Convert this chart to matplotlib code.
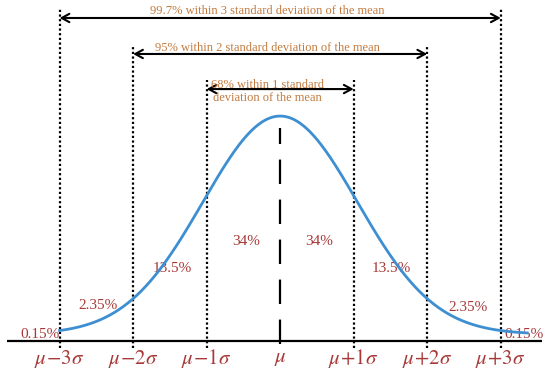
import numpy as np
import matplotlib
matplotlib.use("Agg")
import matplotlib.pyplot as plt

plt.rcParams['mathtext.fontset'] = 'stix'
plt.rcParams['font.family'] = ['Liberation Serif', 'DejaVu Serif']

# ---- data ----
sigma_marks = [-3, -2, -1, 1, 2, 3]
tick_positions = [-3, -2, -1, 0, 1, 2, 3]
tick_labels = [r'$\mu\!-\!3\sigma$', r'$\mu\!-\!2\sigma$', r'$\mu\!-\!1\sigma$', r'$\mu$',
               r'$\mu\!+\!1\sigma$', r'$\mu\!+\!2\sigma$', r'$\mu\!+\!3\sigma$']
pct_labels = ['0.15%', '2.35%', '13.5%', '34%', '34%', '13.5%', '2.35%', '0.15%']
pct_x = [-3.27, -2.48, -1.47, -0.46, 0.53, 1.51, 2.56, 3.32]
pct_y = [0.027, 0.156, 0.324, 0.444, 0.444, 0.324, 0.151, 0.027]
range_levels = [3, 2, 1]
range_texts = ['99.7% within 3 standard deviation of the mean',
               '95% within 2 standard deviation of the mean',
               '68% within 1 standard\ndeviation of the mean']
# curve parameters (normal density shape)
curve_base = 0.03
curve_width = 1.05
curve_start, curve_end = -3.0, 3.36

# ---- styling / layout ----
red = '#A83838'
orange = '#C27A3E'
blue = '#3D8FD2'
arrow_y = {3: 1.436, 2: 1.276, 1: 1.12}
line_top = {3: 1.476, 2: 1.307, 1: 1.16}
text_y = {3: 1.467, 2: 1.302, 1: 1.109}

fig = plt.figure(figsize=(5.5, 3.79), dpi=100)
ax = fig.add_axes([0, 0, 1, 1])
ax.set_xlim(-3.81, 3.67)
ax.set_ylim(-0.169, 1.516)
ax.axis('off')

# baseline axis
ax.plot([-3.71, 3.56], [0, 0], color='black', lw=1.6, solid_capstyle='butt', zorder=3)

# curve
s = np.linspace(curve_start, curve_end, 400)
h = curve_base + (1 - curve_base) * np.exp(-s**2 / (2 * curve_width**2))
ax.plot(s, h, color=blue, lw=2.0, zorder=4)

# vertical dotted lines
for m in sigma_marks:
    ax.plot([m, m], [-0.031, line_top[abs(m)]], color='black', lw=1.6,
            linestyle=(0, (1.0, 1.1)), zorder=2)

# center dashed line
ax.plot([0, 0], [-0.013, 0.947], color='black', lw=1.6, linestyle=(0, (11, 7)), zorder=2)

# arrows and texts
for lvl, txt in zip(range_levels, range_texts):
    ax.annotate('', xy=(-lvl, arrow_y[lvl]), xytext=(lvl, arrow_y[lvl]),
                arrowprops=dict(arrowstyle='<->, head_length=0.55, head_width=0.3',
                                color='black', lw=1.5, shrinkA=0, shrinkB=0))
    ax.text(-0.177, text_y[lvl], txt, ha='center', va='center', color=orange,
            fontsize=9, linespacing=1.1)

# percentage labels
for x, y, t in zip(pct_x, pct_y, pct_labels):
    ax.text(x, y, t, ha='center', va='center', color=red, fontsize=11)

# tick labels
for x, t in zip(tick_positions, tick_labels):
    ax.text(x, -0.08, t, ha='center', va='center', color=red, fontsize=15)

fig.savefig('out.png', dpi=100)
